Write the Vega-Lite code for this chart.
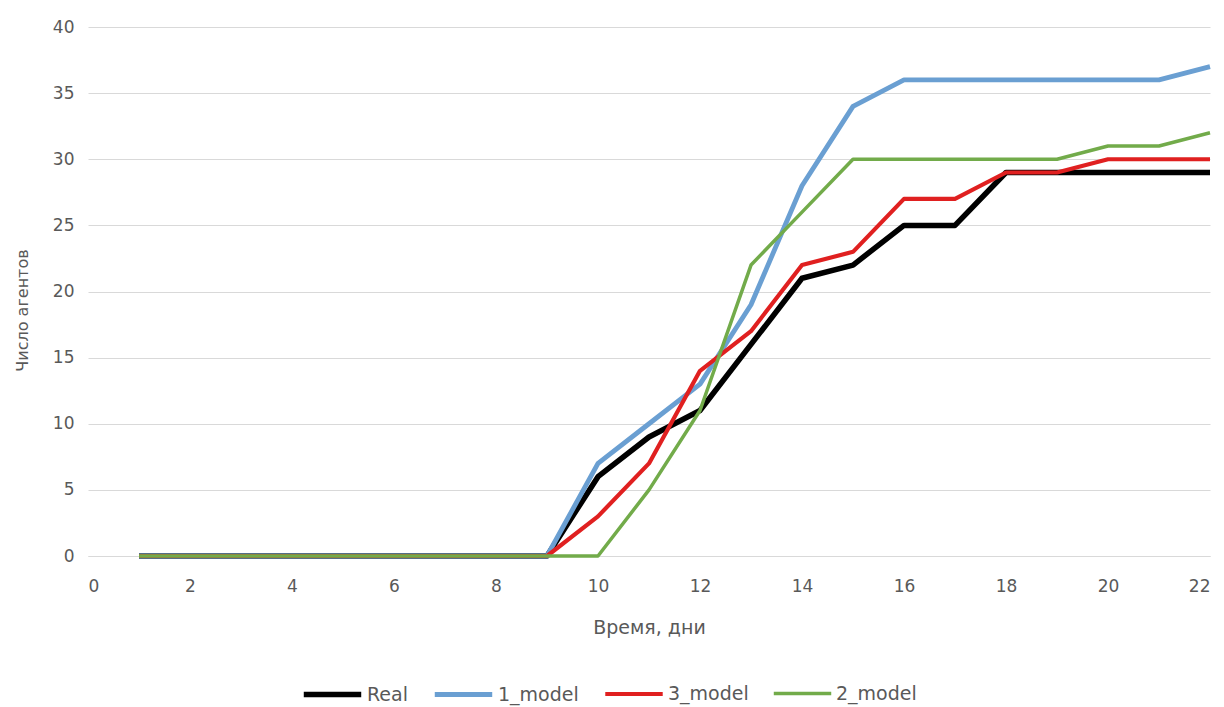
{
  "$schema": "https://vega.github.io/schema/vega-lite/v6.json",
  "autosize": {"type": "none"},
  "padding": {"left": 88, "top": 27, "right": 14, "bottom": 151},
  "width": 1122,
  "height": 529,
  "background": "white",
  "config": {
    "view": {"stroke": null},
    "font": "DejaVu Sans",
    "axis": {"labelFont": "DejaVu Sans", "titleFont": "DejaVu Sans", "labelColor": "#595959", "titleColor": "#595959", "labelFontSize": 17, "titleFontSize": 18, "titleFontWeight": "normal"},
    "legend": {"labelFont": "DejaVu Sans", "labelFontSize": 19, "labelColor": "#595959"}
  },
  "data": {
    "values": [
      {"day": 1, "series": "Real", "value": 0},
      {"day": 2, "series": "Real", "value": 0},
      {"day": 3, "series": "Real", "value": 0},
      {"day": 4, "series": "Real", "value": 0},
      {"day": 5, "series": "Real", "value": 0},
      {"day": 6, "series": "Real", "value": 0},
      {"day": 7, "series": "Real", "value": 0},
      {"day": 8, "series": "Real", "value": 0},
      {"day": 9, "series": "Real", "value": 0},
      {"day": 10, "series": "Real", "value": 6},
      {"day": 11, "series": "Real", "value": 9},
      {"day": 12, "series": "Real", "value": 11},
      {"day": 13, "series": "Real", "value": 16},
      {"day": 14, "series": "Real", "value": 21},
      {"day": 15, "series": "Real", "value": 22},
      {"day": 16, "series": "Real", "value": 25},
      {"day": 17, "series": "Real", "value": 25},
      {"day": 18, "series": "Real", "value": 29},
      {"day": 19, "series": "Real", "value": 29},
      {"day": 20, "series": "Real", "value": 29},
      {"day": 21, "series": "Real", "value": 29},
      {"day": 22, "series": "Real", "value": 29},
      {"day": 1, "series": "1_model", "value": 0},
      {"day": 2, "series": "1_model", "value": 0},
      {"day": 3, "series": "1_model", "value": 0},
      {"day": 4, "series": "1_model", "value": 0},
      {"day": 5, "series": "1_model", "value": 0},
      {"day": 6, "series": "1_model", "value": 0},
      {"day": 7, "series": "1_model", "value": 0},
      {"day": 8, "series": "1_model", "value": 0},
      {"day": 9, "series": "1_model", "value": 0},
      {"day": 10, "series": "1_model", "value": 7},
      {"day": 11, "series": "1_model", "value": 10},
      {"day": 12, "series": "1_model", "value": 13},
      {"day": 13, "series": "1_model", "value": 19},
      {"day": 14, "series": "1_model", "value": 28},
      {"day": 15, "series": "1_model", "value": 34},
      {"day": 16, "series": "1_model", "value": 36},
      {"day": 17, "series": "1_model", "value": 36},
      {"day": 18, "series": "1_model", "value": 36},
      {"day": 19, "series": "1_model", "value": 36},
      {"day": 20, "series": "1_model", "value": 36},
      {"day": 21, "series": "1_model", "value": 36},
      {"day": 22, "series": "1_model", "value": 37},
      {"day": 1, "series": "3_model", "value": 0},
      {"day": 2, "series": "3_model", "value": 0},
      {"day": 3, "series": "3_model", "value": 0},
      {"day": 4, "series": "3_model", "value": 0},
      {"day": 5, "series": "3_model", "value": 0},
      {"day": 6, "series": "3_model", "value": 0},
      {"day": 7, "series": "3_model", "value": 0},
      {"day": 8, "series": "3_model", "value": 0},
      {"day": 9, "series": "3_model", "value": 0},
      {"day": 10, "series": "3_model", "value": 3},
      {"day": 11, "series": "3_model", "value": 7},
      {"day": 12, "series": "3_model", "value": 14},
      {"day": 13, "series": "3_model", "value": 17},
      {"day": 14, "series": "3_model", "value": 22},
      {"day": 15, "series": "3_model", "value": 23},
      {"day": 16, "series": "3_model", "value": 27},
      {"day": 17, "series": "3_model", "value": 27},
      {"day": 18, "series": "3_model", "value": 29},
      {"day": 19, "series": "3_model", "value": 29},
      {"day": 20, "series": "3_model", "value": 30},
      {"day": 21, "series": "3_model", "value": 30},
      {"day": 22, "series": "3_model", "value": 30},
      {"day": 1, "series": "2_model", "value": 0},
      {"day": 2, "series": "2_model", "value": 0},
      {"day": 3, "series": "2_model", "value": 0},
      {"day": 4, "series": "2_model", "value": 0},
      {"day": 5, "series": "2_model", "value": 0},
      {"day": 6, "series": "2_model", "value": 0},
      {"day": 7, "series": "2_model", "value": 0},
      {"day": 8, "series": "2_model", "value": 0},
      {"day": 9, "series": "2_model", "value": 0},
      {"day": 10, "series": "2_model", "value": 0},
      {"day": 11, "series": "2_model", "value": 5},
      {"day": 12, "series": "2_model", "value": 11},
      {"day": 13, "series": "2_model", "value": 22},
      {"day": 14, "series": "2_model", "value": 26},
      {"day": 15, "series": "2_model", "value": 30},
      {"day": 16, "series": "2_model", "value": 30},
      {"day": 17, "series": "2_model", "value": 30},
      {"day": 18, "series": "2_model", "value": 30},
      {"day": 19, "series": "2_model", "value": 30},
      {"day": 20, "series": "2_model", "value": 31},
      {"day": 21, "series": "2_model", "value": 31},
      {"day": 22, "series": "2_model", "value": 32}
    ]
  },
  "mark": {"type": "line", "strokeJoin": "round", "strokeCap": "butt"},
  "encoding": {
    "x": {
      "field": "day", "type": "quantitative",
      "scale": {"domain": [0, 22], "nice": false},
      "axis": {"values": [0,2,4,6,8,10,12,14,16,18,20,22], "grid": false, "ticks": false, "domain": true, "domainColor": "#d9d9d9", "labelPadding": 22, "title": "Время, дни", "titleFontSize": 19, "titlePadding": 24}
    },
    "y": {
      "field": "value", "type": "quantitative",
      "scale": {"domain": [0, 40], "nice": false},
      "axis": {"values": [0,5,10,15,20,25,30,35,40], "grid": true, "gridColor": "#d9d9d9", "ticks": false, "domain": false, "labelPadding": 14, "title": "Число агентов", "titleFontSize": 16, "titlePadding": 22, "titleY": 283}
    },
    "color": {
      "field": "series", "type": "nominal",
      "scale": {"domain": ["Real", "1_model", "3_model", "2_model"], "range": ["#000000", "#6a9fd2", "#e02020", "#72ab4a"]},
      "legend": {"title": null, "orient": "none", "legendX": 213, "legendY": 636, "direction": "horizontal", "gridAlign": "none", "symbolType": "stroke", "symbolSize": 3300, "columnPadding": 17, "labelOffset": 3}
    },
    "strokeWidth": {
      "field": "series", "type": "nominal",
      "scale": {"domain": ["Real", "1_model", "3_model", "2_model"], "range": [5.5, 3.5, 3.5, 3.5]},
      "legend": {"title": null, "orient": "none", "legendX": 213, "legendY": 636, "direction": "horizontal", "gridAlign": "none", "symbolType": "stroke", "symbolSize": 3300, "columnPadding": 17, "labelOffset": 3}
    }
  }
}
